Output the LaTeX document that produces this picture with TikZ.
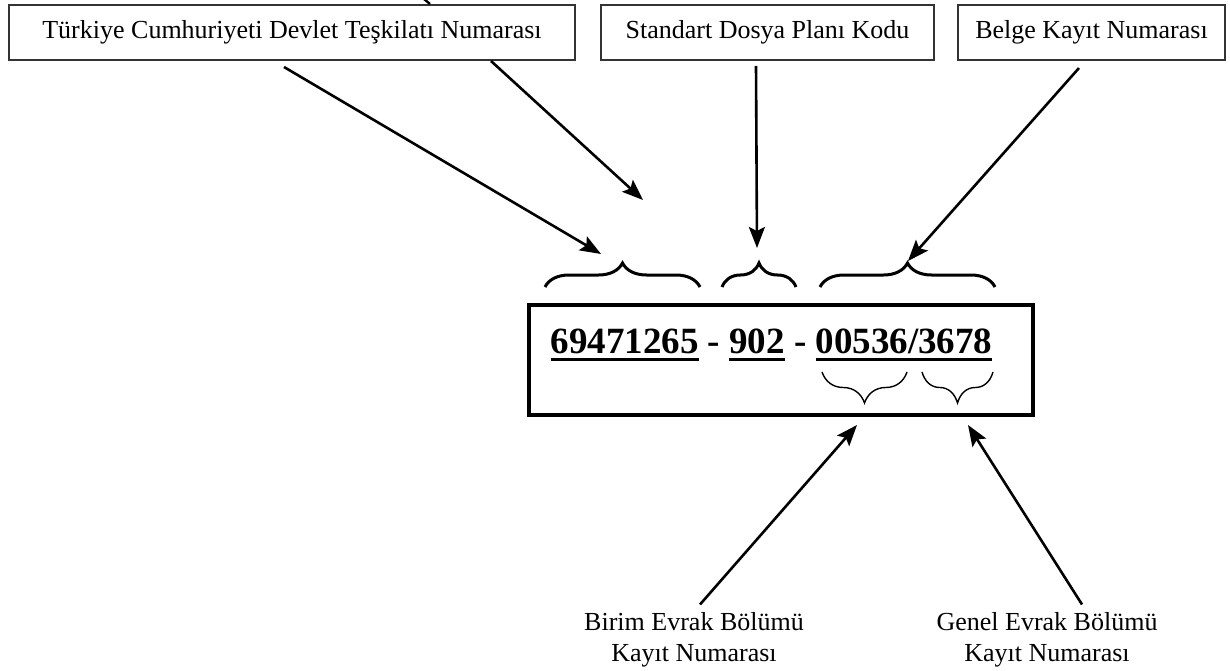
\documentclass[tikz,border=0pt]{standalone}
\usepackage{fontspec}
\setmainfont{Liberation Serif}
\usetikzlibrary{arrows.meta,decorations.pathreplacing,calc}
\newcommand\myul[1]{\setbox0\hbox{#1}\rlap{\rule[-8pt]{\wd0}{3pt}}\box0\relax}
\tikzset{
  lbox/.style={draw=black!80, line width=2pt, inner sep=0pt, minimum height=55pt,
    font=\fontsize{26}{31}\selectfont},
  arr/.style={line width=2.6pt, -{Stealth[length=21pt,width=16pt,inset=4pt]}},
  bigbrace/.style={line width=3pt, decorate, decoration={brace, amplitude=24pt}},
  smallbrace/.style={line width=1.4pt, decorate, decoration={brace, amplitude=31pt}},
  lbl/.style={align=center, font=\fontsize{26}{31}\selectfont, inner sep=0pt}
}
\begin{document}
\begin{tikzpicture}[x=1pt,y=-1pt]
\useasboundingbox (0,0) rectangle (1230,671);
% top boxes
\node[lbox, minimum width=566pt] (box1) at (292,32.5) {Türkiye Cumhuriyeti Devlet Teşkilatı Numarası};
\node[lbox, minimum width=333pt] (box2) at (767.5,32.5) {Standart Dosya Planı Kodu};
\node[lbox, minimum width=267pt] (box3) at (1091.5,32.5) {Belge Kayıt Numarası};
% cut line at top of box1
\coordinate (cut) at (424,-1);
\coordinate (cutend) at ($(box1.north west)+(422,0)$);
\draw[line width=2.4pt] (cut) -- (cutend);
% main box
\node[draw, line width=4.5pt, minimum width=504pt, minimum height=110pt, inner sep=0pt] (main) at (781,360) {};
\node[anchor=base, inner sep=0pt, font=\fontsize{37}{44}\selectfont\bfseries] (num) at (771.5,353)
  {\myul{69471265} - \myul{902} - \myul{00536/3678}};
% top braces
\draw[bigbrace] (545,287) -- (700,287);
\draw[bigbrace] (722,287) -- (796,287);
\draw[bigbrace] (820,287) -- (995,287);
% lower braces
\draw[smallbrace] (907,372) -- (822,372);
\draw[smallbrace] (993,372) -- (922,372);
% tips
\coordinate (tip1) at (601,254);
\coordinate (tip2) at (643,200);
\coordinate (tip3) at (757,248);
\coordinate (tip4) at (908,261);
\coordinate (tip5) at (857,425);
\coordinate (tip6) at (968,425);
% bottom labels
\node[lbl] (lab1) at (694,640) {Birim Evrak Bölümü\\Kayıt Numarası};
\node[lbl] (lab2) at (1047,640) {Genel Evrak Bölümü\\Kayıt Numarası};
% arrows
\draw[arr] ($(box1.south west)+(276,6)$) -- (tip1);
\draw[arr] ($(box1.south west)+(483,0)$) -- (tip2);
\draw[arr] ($(box2.south west)+(156,5)$) -- (tip3);
\draw[arr] ($(box3.south west)+(122,7)$) -- (tip4);
\draw[arr] ($(lab1.north)+(6,-8)$) -- (tip5);
\draw[arr] ($(lab2.north)+(35,-8)$) -- (tip6);
\end{tikzpicture}
\end{document}
